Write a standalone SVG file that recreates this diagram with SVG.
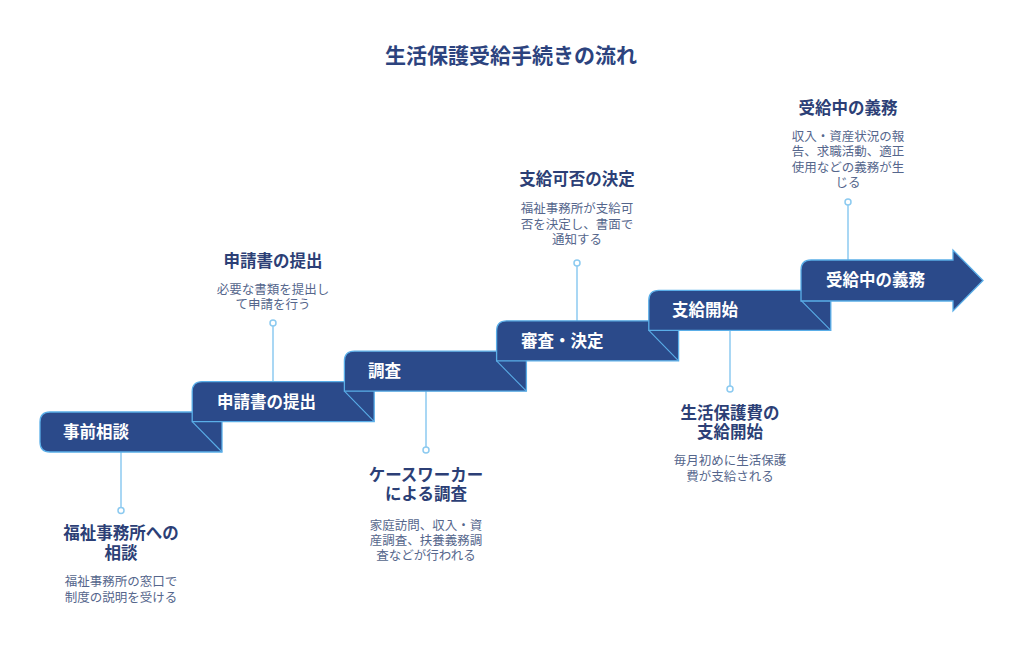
<svg xmlns="http://www.w3.org/2000/svg" width="1024" height="662" viewBox="0 0 1024 662">
<style>
text{font-family:"Noto Sans CJK JP","Noto Sans",sans-serif}
.title{font-size:21px;font-weight:700;fill:#2c437e;text-anchor:middle}
.step{fill:#2b4a8a;stroke:#5aaee8;stroke-width:1.3}
.fold{stroke:#5aaee8;stroke-width:1.1;fill:none}
.lbl{font-size:16.5px;font-weight:700;fill:#ffffff}
.conn line{stroke:#8ccaf0;stroke-width:1.5}
.conn circle{fill:#ffffff;stroke:#8ccaf0;stroke-width:1.5}
.hd{font-size:16.5px;font-weight:700;fill:#2c3f76;text-anchor:middle}
.ds{font-size:12.5px;fill:#55668c;text-anchor:middle}
</style>
<rect width="1024" height="662" fill="#ffffff"/>
<text class="title" x="511" y="62.5">生活保護受給手続きの流れ</text>

<g id="connectors" class="conn">
<line x1="121" y1="452" x2="121" y2="507.5"/><circle cx="121" cy="510.5" r="3"/>
<line x1="273" y1="382" x2="273" y2="326"/><circle cx="273" cy="323" r="3"/>
<line x1="426" y1="391" x2="426" y2="447"/><circle cx="426" cy="450" r="3"/>
<line x1="577" y1="321" x2="577" y2="266"/><circle cx="577" cy="263" r="3"/>
<line x1="730" y1="330" x2="730" y2="386"/><circle cx="730" cy="389" r="3"/>
<line x1="848" y1="260" x2="848" y2="205"/><circle cx="848" cy="202" r="3"/>
</g>

<g id="step1">
<path class="step" d="M40,422 Q40,412 50,412 L222,412 L222,452 L50,452 Q40,452 40,442 Z"/>
<line class="fold" x1="192.2" y1="421.6" x2="222" y2="452"/>
<text class="lbl" x="63" y="438">事前相談</text>
</g>
<g id="step2">
<path class="step" d="M192.2,391.6 Q192.2,381.6 202.2,381.6 L374.2,381.6 L374.2,421.6 L192.2,421.6 Z"/>
<line class="fold" x1="344.4" y1="391.2" x2="374.2" y2="421.6"/>
<text class="lbl" x="217" y="407.6">申請書の提出</text>
</g>
<g id="step3">
<path class="step" d="M344.4,361.2 Q344.4,351.2 354.4,351.2 L526.4,351.2 L526.4,391.2 L344.4,391.2 Z"/>
<line class="fold" x1="496.6" y1="360.8" x2="526.4" y2="391.2"/>
<text class="lbl" x="368" y="377.2">調査</text>
</g>
<g id="step4">
<path class="step" d="M496.6,330.8 Q496.6,320.8 506.6,320.8 L678.6,320.8 L678.6,360.8 L496.6,360.8 Z"/>
<line class="fold" x1="648.8" y1="330.4" x2="678.6" y2="360.8"/>
<text class="lbl" x="521" y="346.8">審査・決定</text>
</g>
<g id="step5">
<path class="step" d="M648.8,300.4 Q648.8,290.4 658.8,290.4 L830.8,290.4 L830.8,330.4 L648.8,330.4 Z"/>
<line class="fold" x1="801" y1="300.4" x2="830.8" y2="330.4"/>
<text class="lbl" x="672" y="316.4">支給開始</text>
</g>
<g id="step6">
<path class="step" d="M801,270 Q801,260 811,260 L953,260 L953,250 L983,280.5 L953,311 L953,301 L801,301 Z"/>
<text class="lbl" x="826" y="286">受給中の義務</text>
</g>

<g id="note1">
<text class="hd" x="121" y="539">福祉事務所への</text>
<text class="hd" x="121" y="559">相談</text>
<text class="ds" x="121" y="586">福祉事務所の窓口で</text>
<text class="ds" x="121" y="602">制度の説明を受ける</text>
</g>
<g id="note2">
<text class="hd" x="273" y="267">申請書の提出</text>
<text class="ds" x="273" y="293.5">必要な書類を提出し</text>
<text class="ds" x="273" y="308.5">て申請を行う</text>
</g>
<g id="note3">
<text class="hd" x="426" y="481">ケースワーカー</text>
<text class="hd" x="426" y="500">による調査</text>
<text class="ds" x="426" y="529.5">家庭訪問、収入・資</text>
<text class="ds" x="426" y="544.5">産調査、扶養義務調</text>
<text class="ds" x="426" y="559.5">査などが行われる</text>
</g>
<g id="note4">
<text class="hd" x="577" y="185">支給可否の決定</text>
<text class="ds" x="577" y="212.5">福祉事務所が支給可</text>
<text class="ds" x="577" y="228.5">否を決定し、書面で</text>
<text class="ds" x="577" y="244">通知する</text>
</g>
<g id="note5">
<text class="hd" x="730" y="419">生活保護費の</text>
<text class="hd" x="730" y="438">支給開始</text>
<text class="ds" x="730" y="464.5">毎月初めに生活保護</text>
<text class="ds" x="730" y="480.5">費が支給される</text>
</g>
<g id="note6">
<text class="hd" x="848" y="114">受給中の義務</text>
<text class="ds" x="848" y="140.5">収入・資産状況の報</text>
<text class="ds" x="848" y="156">告、求職活動、適正</text>
<text class="ds" x="848" y="171.5">使用などの義務が生</text>
<text class="ds" x="848" y="187">じる</text>
</g>
</svg>
